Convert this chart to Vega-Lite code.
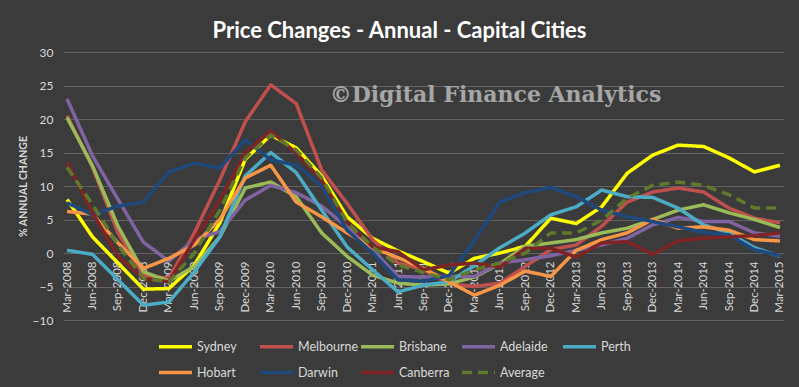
{
  "$schema": "https://vega.github.io/schema/vega-lite/v6.json",
  "width": 721,
  "height": 268,
  "autosize": {"type": "none"},
  "padding": {"left": 63, "top": 52, "right": 15, "bottom": 67},
  "background": "#3b3b3b",
  "title": {
    "text": "Price  Changes  -  Annual  -  Capital  Cities",
    "fontSize": 22,
    "font": "Lato",
    "fontWeight": "bold",
    "color": "#ffffff",
    "anchor": "middle",
    "dx": -24,
    "offset": 3
  },
  "config": {
    "view": {"stroke": null},
    "font": "Lato",
    "legend": {
      "symbolType": "stroke",
      "symbolSize": 1089,
      "symbolStrokeWidth": 3.5,
      "labelOffset": 3,
      "labelFontSize": 12.5,
      "labelColor": "#d9d9d9",
      "labelFont": "Lato"
    }
  },
  "layer": [
    {
      "data": {
        "values": [
          {"q": "Mar-2008", "Sydney": 8, "Melbourne": 20.5, "Brisbane": 20.2, "Adelaide": 23, "Perth": 0.4, "Hobart": 6.2, "Darwin": 7.5, "Canberra": 13.5, "Average": 12.8},
          {"q": "Jun-2008", "Sydney": 2.4, "Melbourne": 12.8, "Brisbane": 13, "Adelaide": 14.5, "Perth": -0.2, "Hobart": 5.8, "Darwin": 5.7, "Canberra": 6, "Average": 7.2},
          {"q": "Sep-2008", "Sydney": -1.5, "Melbourne": 3, "Brisbane": 4, "Adelaide": 8, "Perth": -4, "Hobart": 1.5, "Darwin": 7, "Canberra": -0.5, "Average": 1.2},
          {"q": "Dec-2008", "Sydney": -5.4, "Melbourne": -3.3, "Brisbane": -2.8, "Adelaide": 1.6, "Perth": -7.8, "Hobart": -2.3, "Darwin": 7.6, "Canberra": -3.8, "Average": -3.8},
          {"q": "Mar-2009", "Sydney": -5.3, "Melbourne": -3.8, "Brisbane": -4.2, "Adelaide": -1.2, "Perth": -7.3, "Hobart": -0.8, "Darwin": 12.1, "Canberra": -4.3, "Average": -4.3},
          {"q": "Jun-2009", "Sydney": -1.8, "Melbourne": 3, "Brisbane": -2, "Adelaide": 2, "Perth": -2.8, "Hobart": 1.2, "Darwin": 13.4, "Canberra": 2, "Average": 0},
          {"q": "Sep-2009", "Sydney": 4.5, "Melbourne": 10.9, "Brisbane": 2.4, "Adelaide": 3.2, "Perth": 2.4, "Hobart": 5, "Darwin": 12.7, "Canberra": 7.9, "Average": 6.4},
          {"q": "Dec-2009", "Sydney": 14, "Melbourne": 19.6, "Brisbane": 9.7, "Adelaide": 7.9, "Perth": 11.5, "Hobart": 11.2, "Darwin": 16.9, "Canberra": 15, "Average": 14.2},
          {"q": "Mar-2010", "Sydney": 17.6, "Melbourne": 25.1, "Brisbane": 10.6, "Adelaide": 10.1, "Perth": 15, "Hobart": 13.1, "Darwin": 13.9, "Canberra": 18.2, "Average": 17.6},
          {"q": "Jun-2010", "Sydney": 15.7, "Melbourne": 22.3, "Brisbane": 8.4, "Adelaide": 9, "Perth": 12, "Hobart": 7.6, "Darwin": 13.1, "Canberra": 14.9, "Average": 15.4},
          {"q": "Sep-2010", "Sydney": 11.5, "Melbourne": 12.4, "Brisbane": 3, "Adelaide": 7, "Perth": 6.4, "Hobart": 5.4, "Darwin": 10, "Canberra": 10.9, "Average": 11.2},
          {"q": "Dec-2010", "Sydney": 5.4, "Melbourne": 7.4, "Brisbane": -0.5, "Adelaide": 3.9, "Perth": 0.9, "Hobart": 3, "Darwin": 3.4, "Canberra": 4.6, "Average": 4.6},
          {"q": "Mar-2011", "Sydney": 2.2, "Melbourne": 2, "Brisbane": -3.3, "Adelaide": 0.5, "Perth": -2.5, "Hobart": 0.8, "Darwin": 0, "Canberra": 0.9, "Average": 0.9},
          {"q": "Jun-2011", "Sydney": 0.3, "Melbourne": -1.5, "Brisbane": -4.5, "Adelaide": -3.5, "Perth": -5.8, "Hobart": -0.7, "Darwin": -4, "Canberra": 0.2, "Average": -1.8},
          {"q": "Sep-2011", "Sydney": -1.3, "Melbourne": -2.5, "Brisbane": -4.8, "Adelaide": -3.6, "Perth": -4.8, "Hobart": -2.3, "Darwin": -4.2, "Canberra": -2.5, "Average": -2.9},
          {"q": "Dec-2011", "Sydney": -3, "Melbourne": -4.6, "Brisbane": -4.6, "Adelaide": -3.5, "Perth": -4.3, "Hobart": -4.3, "Darwin": -3.4, "Canberra": -1.8, "Average": -4},
          {"q": "Mar-2012", "Sydney": -0.8, "Melbourne": -5, "Brisbane": -3.6, "Adelaide": -3.5, "Perth": -1.9, "Hobart": -6.3, "Darwin": 1.9, "Canberra": -1.5, "Average": -2.5},
          {"q": "Jun-2012", "Sydney": 0, "Melbourne": -4.5, "Brisbane": -1.6, "Adelaide": -1.5, "Perth": 0.8, "Hobart": -4.8, "Darwin": 7.6, "Canberra": -2.1, "Average": -1.5},
          {"q": "Sep-2012", "Sydney": 1, "Melbourne": -2, "Brisbane": 1, "Adelaide": -1, "Perth": 3, "Hobart": -2.7, "Darwin": 9, "Canberra": 0.7, "Average": 0},
          {"q": "Dec-2012", "Sydney": 5.2, "Melbourne": 0.5, "Brisbane": 1.5, "Adelaide": -0.4, "Perth": 5.7, "Hobart": -3.5, "Darwin": 9.8, "Canberra": 0.7, "Average": 3},
          {"q": "Mar-2013", "Sydney": 4.4, "Melbourne": 1.2, "Brisbane": 2, "Adelaide": 0.4, "Perth": 6.9, "Hobart": 0.4, "Darwin": 8.4, "Canberra": -0.6, "Average": 3},
          {"q": "Jun-2013", "Sydney": 6.9, "Melbourne": 4, "Brisbane": 3, "Adelaide": 1.2, "Perth": 9.4, "Hobart": 2, "Darwin": 6.4, "Canberra": 1.5, "Average": 4.9},
          {"q": "Sep-2013", "Sydney": 11.9, "Melbourne": 7.6, "Brisbane": 3.7, "Adelaide": 2.2, "Perth": 8.4, "Hobart": 3, "Darwin": 5.4, "Canberra": 1.7, "Average": 8.2},
          {"q": "Dec-2013", "Sydney": 14.6, "Melbourne": 9.1, "Brisbane": 5, "Adelaide": 4.2, "Perth": 8.3, "Hobart": 5, "Darwin": 4.7, "Canberra": -0.2, "Average": 10.1},
          {"q": "Mar-2014", "Sydney": 16.1, "Melbourne": 9.7, "Brisbane": 6.4, "Adelaide": 5.3, "Perth": 6.7, "Hobart": 3.7, "Darwin": 3.9, "Canberra": 1.8, "Average": 10.6},
          {"q": "Jun-2014", "Sydney": 15.9, "Melbourne": 9.1, "Brisbane": 7.2, "Adelaide": 4.7, "Perth": 4.2, "Hobart": 3.9, "Darwin": 3.1, "Canberra": 2.2, "Average": 10.1},
          {"q": "Sep-2014", "Sydney": 14.2, "Melbourne": 6.7, "Brisbane": 6, "Adelaide": 4.7, "Perth": 3, "Hobart": 3.4, "Darwin": 2.7, "Canberra": 2.4, "Average": 8.7},
          {"q": "Dec-2014", "Sydney": 12.1, "Melbourne": 5.2, "Brisbane": 5, "Adelaide": 3, "Perth": 0.8, "Hobart": 2, "Darwin": 0.5, "Canberra": 2.6, "Average": 6.7},
          {"q": "Mar-2015", "Sydney": 13.1, "Melbourne": 4.5, "Brisbane": 3.8, "Adelaide": 2.5, "Perth": -0.5, "Hobart": 1.8, "Darwin": -0.4, "Canberra": 3, "Average": 6.7}
        ]
      },
      "transform": [
        {"fold": ["Sydney", "Melbourne", "Brisbane", "Adelaide", "Perth", "Hobart", "Darwin", "Canberra", "Average"], "as": ["city", "v"]}
      ],
      "mark": {"type": "line", "strokeWidth": 3.5, "strokeJoin": "round"},
      "encoding": {
        "x": {
          "field": "q",
          "type": "ordinal",
          "sort": null,
          "scale": {"type": "point", "padding": 0.16},
          "axis": {
            "title": null,
            "offset": -67,
            "labelAngle": 270,
            "labelFontSize": 11.5,
            "labelColor": "#d9d9d9",
            "labelPadding": 8,
            "ticks": false,
            "domain": false,
            "grid": false,
            "labelFont": "Lato"
          }
        },
        "y": {
          "field": "v",
          "type": "quantitative",
          "scale": {"domain": [-10, 30], "nice": false, "zero": false},
          "axis": {
            "title": "% ANNUAL CHANGE",
            "titleFontSize": 10.5,
            "titleFontWeight": "bold",
            "titleColor": "#d9d9d9",
            "titleFont": "Lato",
            "titlePadding": 4,
            "values": [-10, -5, 0, 5, 10, 15, 20, 25, 30],
            "labelFontSize": 12,
            "labelColor": "#d9d9d9",
            "labelPadding": 10,
            "ticks": false,
            "domain": false,
            "grid": true,
            "gridColor": "#626262",
            "gridOpacity": 1,
            "gridWidth": 1,
            "labelFont": "Lato"
          }
        },
        "color": {
          "field": "city",
          "type": "nominal",
          "title": null,
          "scale": {
            "domain": ["Sydney", "Melbourne", "Brisbane", "Adelaide", "Perth", "Hobart", "Darwin", "Canberra", "Average"],
            "range": ["#ffff00", "#c0504d", "#9bbb59", "#8064a2", "#4bacc6", "#f79646", "#1f497d", "#7f2424", "#5f7a2c"]
          },
          "legend": {
            "orient": "none",
            "legendX": 94,
            "legendY": 276,
            "direction": "horizontal",
            "columns": 5,
            "gridAlign": "all",
            "columnPadding": -10,
            "rowPadding": -13.5
          }
        },
        "strokeDash": {
          "field": "city",
          "type": "nominal",
          "title": null,
          "scale": {
            "domain": ["Sydney", "Melbourne", "Brisbane", "Adelaide", "Perth", "Hobart", "Darwin", "Canberra", "Average"],
            "range": [[1, 0], [1, 0], [1, 0], [1, 0], [1, 0], [1, 0], [1, 0], [1, 0], [10, 6]]
          }
        },
        "order": {"field": "city"}
      }
    },
    {
      "data": {"values": [{"label": "©Digital Finance Analytics"}]},
      "mark": {
        "type": "text",
        "font": "DejaVu Serif",
        "fontWeight": "bold",
        "fontSize": 22,
        "color": "#a6a6a6",
        "align": "left",
        "baseline": "middle",
        "dx": 8
      },
      "encoding": {
        "x": {
          "datum": "Sep-2010",
          "type": "ordinal",
          "axis": {
            "title": null,
            "offset": -67,
            "labelAngle": 270,
            "labelFontSize": 11.5,
            "labelColor": "#d9d9d9",
            "labelPadding": 8,
            "ticks": false,
            "domain": false,
            "grid": false,
            "labelFont": "Lato"
          }
        },
        "y": {
          "datum": 23.6,
          "type": "quantitative",
          "axis": {
            "title": "% ANNUAL CHANGE",
            "titleFontSize": 10.5,
            "titleFontWeight": "bold",
            "titleColor": "#d9d9d9",
            "titleFont": "Lato",
            "titlePadding": 4,
            "values": [-10, -5, 0, 5, 10, 15, 20, 25, 30],
            "labelFontSize": 12,
            "labelColor": "#d9d9d9",
            "labelPadding": 10,
            "ticks": false,
            "domain": false,
            "grid": true,
            "gridColor": "#626262",
            "gridOpacity": 1,
            "gridWidth": 1,
            "labelFont": "Lato"
          }
        },
        "text": {"field": "label"}
      }
    }
  ]
}
